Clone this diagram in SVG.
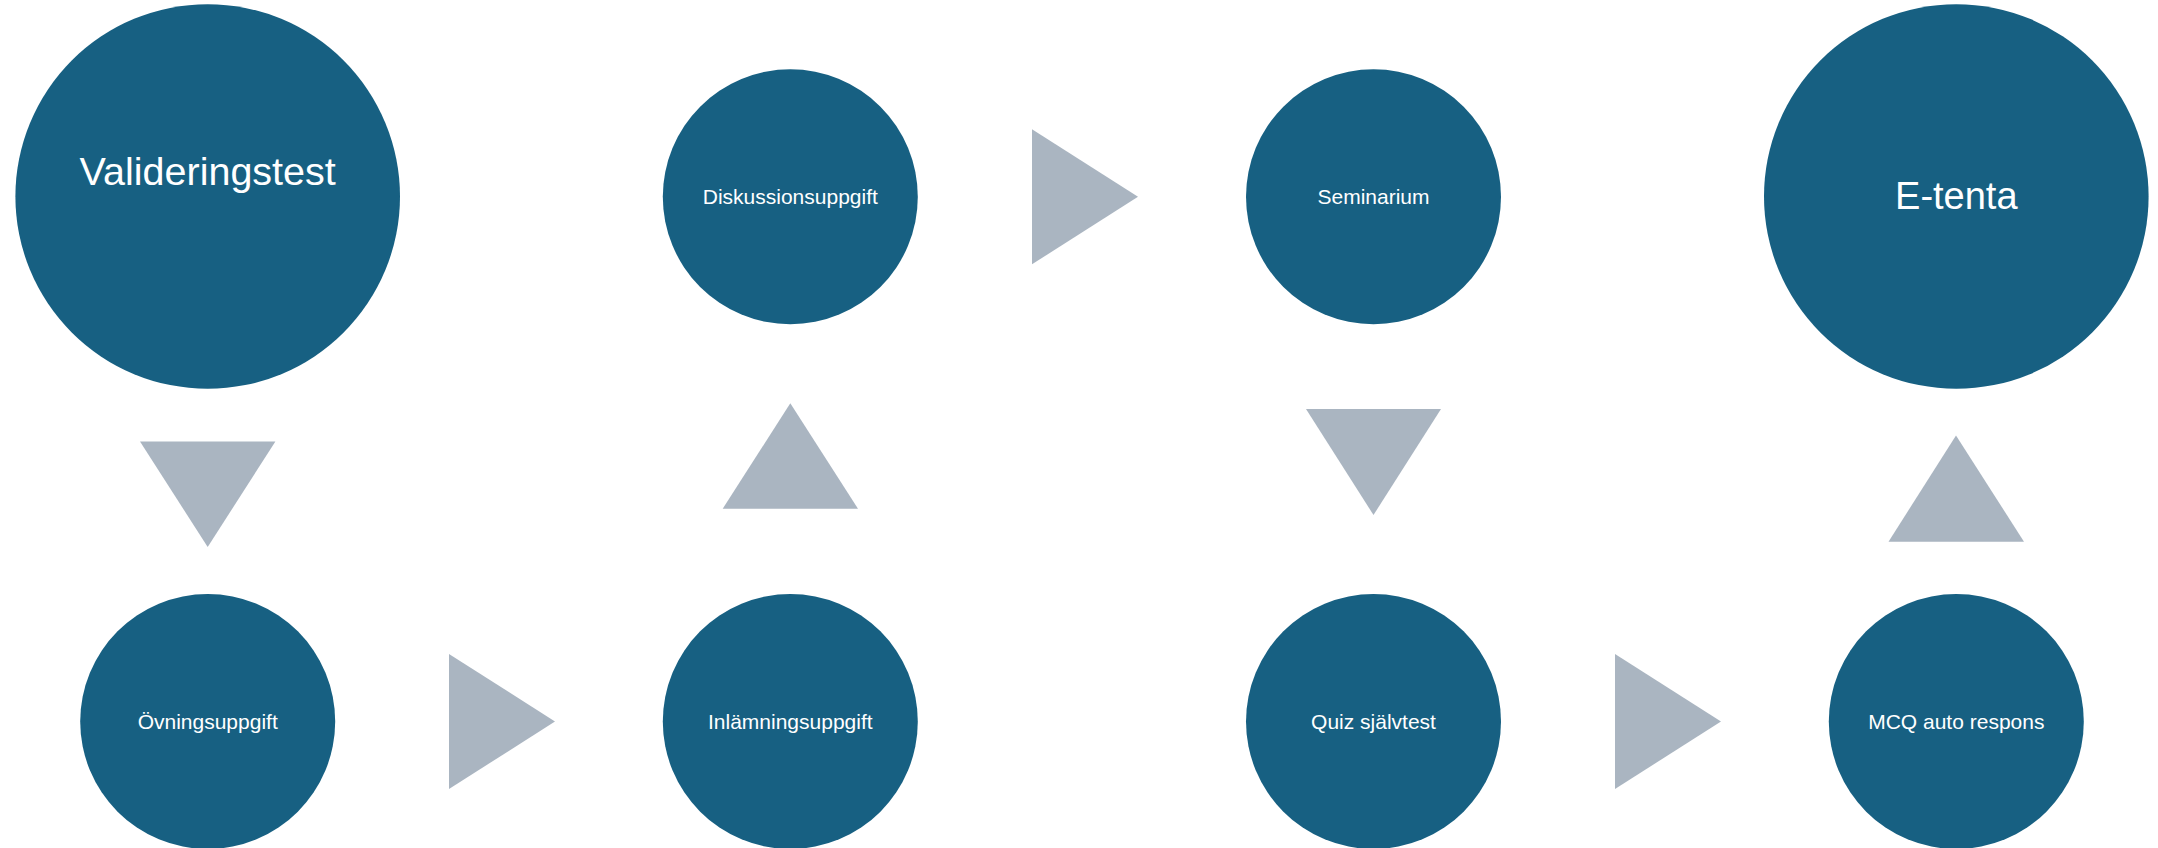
<svg xmlns="http://www.w3.org/2000/svg" width="2158" height="848" viewBox="0 0 2158 848">
<style>
.node{fill:#176082}
.arr{fill:#AAB5C1}
.lbl{font-family:"Liberation Sans",Arial,sans-serif;font-size:21px;fill:#FFFFFF;text-anchor:middle}
.big{font-family:"Liberation Sans",Arial,sans-serif;font-size:38px;fill:#FFFFFF;text-anchor:middle}
</style>
<rect width="2158" height="848" fill="#FFFFFF"/>
<g id="connectors">
<polygon class="arr" points="140,441.5 275.4,441.5 207.7,547"/>
<polygon class="arr" points="449,654 555,721.5 449,789"/>
<polygon class="arr" points="722.7,508.7 858,508.7 790.3,403.3"/>
<polygon class="arr" points="1032,129.3 1138,196.8 1032,264.3"/>
<polygon class="arr" points="1306,409 1441,409 1373.5,515"/>
<polygon class="arr" points="1615,654 1721,721.5 1615,789"/>
<polygon class="arr" points="1888.5,541.7 2024,541.7 1956,435.5"/>
</g>
<g id="valideringstest">
<circle class="node" cx="207.7" cy="196.5" r="192.3"/>
<text class="big" x="207.7" y="185" style="font-size:39.5px">Valideringstest</text>
</g>
<g id="ovningsuppgift">
<circle class="node" cx="207.7" cy="721.5" r="127.5"/>
<text class="lbl" x="207.7" y="728.5">Övningsuppgift</text>
</g>
<g id="inlamningsuppgift">
<circle class="node" cx="790.3" cy="721.5" r="127.5"/>
<text class="lbl" x="790.3" y="728.5">Inlämningsuppgift</text>
</g>
<g id="diskussionsuppgift">
<circle class="node" cx="790.3" cy="196.8" r="127.5"/>
<text class="lbl" x="790.3" y="203.5">Diskussionsuppgift</text>
</g>
<g id="seminarium">
<circle class="node" cx="1373.5" cy="196.8" r="127.5"/>
<text class="lbl" x="1373.5" y="203.5">Seminarium</text>
</g>
<g id="quiz">
<circle class="node" cx="1373.5" cy="721.5" r="127.5"/>
<text class="lbl" x="1373.5" y="728.5">Quiz självtest</text>
</g>
<g id="mcq">
<circle class="node" cx="1956.3" cy="721.5" r="127.5"/>
<text class="lbl" x="1956.3" y="728.5">MCQ auto respons</text>
</g>
<g id="etenta">
<circle class="node" cx="1956.3" cy="196.5" r="192.3"/>
<text class="big" x="1956.3" y="208.5">E-tenta</text>
</g>
</svg>
